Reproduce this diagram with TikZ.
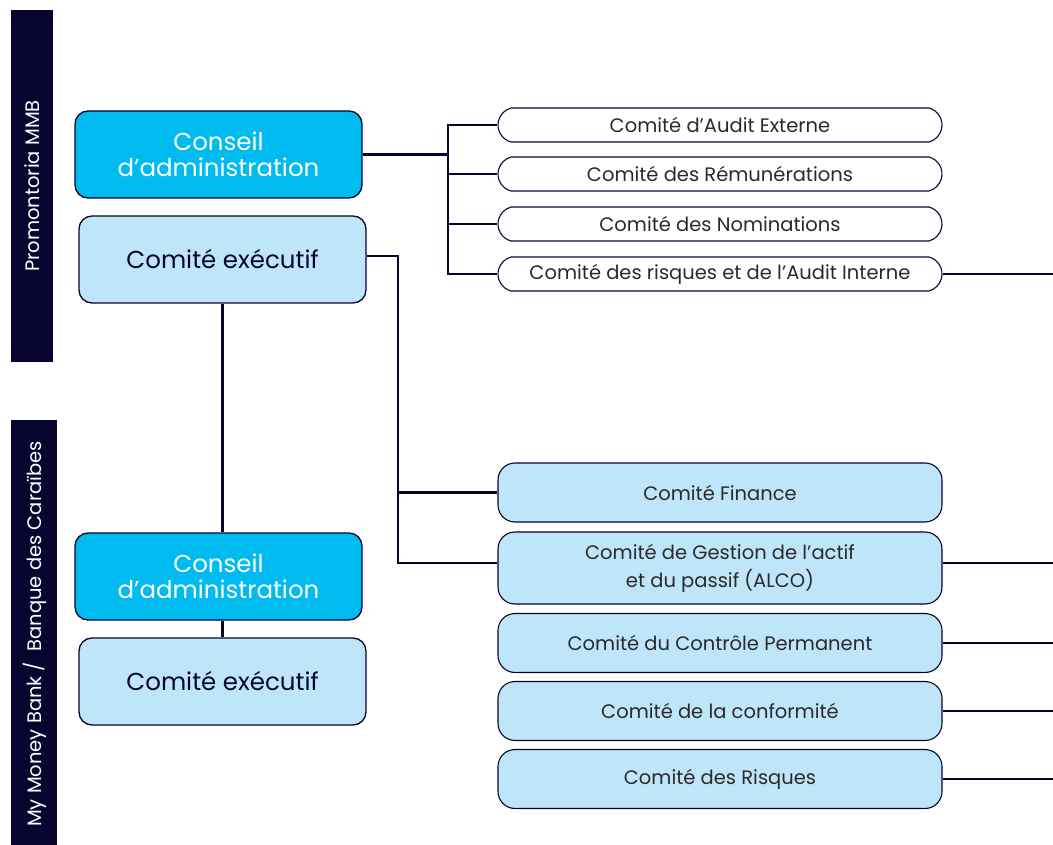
\documentclass[tikz,border=0pt]{standalone}
\usepackage{fontspec}
\setmainfont{Poppins}
\usetikzlibrary{shapes.misc}
\definecolor{navy}{HTML}{07052F}
\definecolor{cyanbox}{HTML}{00BBEF}
\definecolor{lightbox}{HTML}{BEE5F8}
\definecolor{txt}{HTML}{2A2A2A}
\begin{document}
\begin{tikzpicture}[x=1pt,y=-1pt,
 bar/.style={fill=navy, draw=none},
 bartext/.style={text=white, rotate=90, font=\fontsize{19.5}{22}\selectfont, inner sep=0pt},
 cabox/.style={draw=navy, line width=1.3pt, fill=cyanbox, rounded corners=13pt, minimum width=287pt, minimum height=87pt, text=white, font=\fontsize{24.5}{26}\selectfont, align=center, inner sep=0pt},
 exbox/.style={cabox, fill=lightbox, text=navy},
 wbox/.style={draw=navy, line width=1.1pt, fill=white, rounded rectangle, rounded rectangle arc length=150, minimum width=444pt, minimum height=34pt, text=txt, font=\fontsize{19.5}{22}\selectfont, inner sep=0pt},
 lbox/.style={draw=navy, line width=1.1pt, fill=lightbox, rounded corners=17pt, minimum width=444pt, text=txt, font=\fontsize{19.5}{28}\selectfont, align=center, inner sep=0pt},
 link/.style={draw=navy, line width=2.9pt}
]
\useasboundingbox (0,0) rectangle (1053,845);
% side bars
\fill[bar] (11,10) rectangle (53,362);
\node[bartext] (pmmb) at (32,186) {Promontoria MMB};
\fill[bar] (11,420) rectangle (57,845);
\node[bartext] (mmb) at (35,634) {My Money Bank /\ \ Banque des Caraïbes};
% left boxes
\node[cabox] (ca1) at (218.5,154.5) {Conseil\\d’administration};
\node[exbox] (ex1) at (222.5,259.5) {Comité exécutif};
\node[cabox] (ca2) at (218.5,576.5) {Conseil\\d’administration};
\node[exbox] (ex2) at (222.5,681.5) {Comité exécutif};
% top committees
\node[wbox] (w1) at (720,125) {Comité d’Audit Externe};
\node[wbox] (w2) at (720,174) {Comité des Rémunérations};
\node[wbox] (w3) at (720,224) {Comité des Nominations};
\node[wbox] (w4) at (720,274) {Comité des risques et de l’Audit Interne};
% bottom committees
\node[lbox, minimum height=59pt] (fin) at (720,492.5) {Comité Finance};
\node[lbox, minimum height=72pt] (alco) at (720,568) {Comité de Gestion de l’actif\\et du passif (ALCO)};
\node[lbox, minimum height=59pt] (cp) at (720,643) {Comité du Contrôle Permanent};
\node[lbox, minimum height=59pt] (conf) at (720,711) {Comité de la conformité};
\node[lbox, minimum height=59pt] (risq) at (720,779) {Comité des Risques};
% helper coordinates
\coordinate (jt) at (448,125);
\coordinate (jb) at (448,274);
\coordinate (k) at (398,0);
\coordinate (redge) at (1053,0);
\coordinate (alcoy) at (0,563);
\coordinate (exy) at (0,256);
% connectors
\draw[link] (w1.west) -- (jt) -- (jb) -- (w4.west);
\draw[link] (ca1.east) -- (ca1.east -| jt);
\draw[link] (w2.west) -- (w2.west -| jt);
\draw[link] (w3.west) -- (w3.west -| jt);
\draw[link] (w4.east) -- (w4.east -| redge);
\draw[link] (ex1.east |- exy) -- (k |- exy) -- (k |- alcoy) -- (alco.west |- alcoy);
\draw[link] (fin.west) -- (fin.west -| k);
\draw[link] (ex1.south) -- (ex1.south |- ca2.north);
\draw[link] (ex2.north) -- (ex2.north |- ca2.south);
\draw[link] (alco.east |- alcoy) -- (redge |- alcoy);
\draw[link] (cp.east) -- (cp.east -| redge);
\draw[link] (conf.east) -- (conf.east -| redge);
\draw[link] (risq.east) -- (risq.east -| redge);
\end{tikzpicture}
\end{document}
